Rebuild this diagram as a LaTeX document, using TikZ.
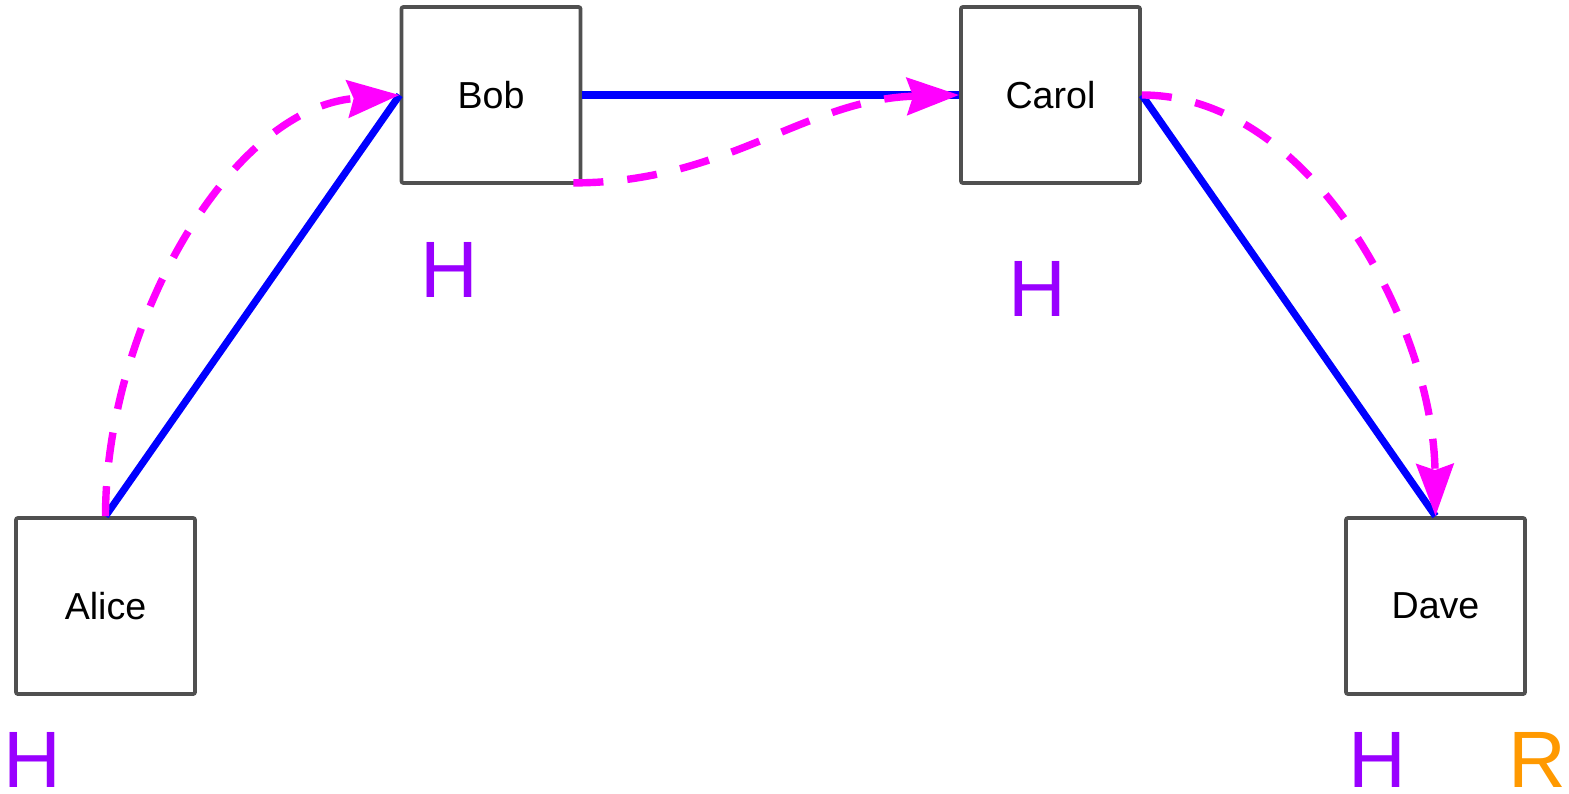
\documentclass[tikz,border=0pt]{standalone}
\usepackage{fontspec}
\setmainfont{Liberation Sans}
\usetikzlibrary{arrows.meta}
\definecolor{boxgray}{HTML}{505050}
\definecolor{linkblue}{HTML}{0000FF}
\definecolor{flowmag}{HTML}{FF00FF}
\definecolor{hpurple}{HTML}{9900FF}
\definecolor{rorange}{HTML}{FF9900}
\begin{document}
\begin{tikzpicture}[x=0.5pt,y=-0.5pt,
  party/.style={draw=boxgray, line width=1.9pt, rounded corners=1pt,
    minimum width=89.5pt, minimum height=88pt, inner sep=0pt,
    font=\fontsize{18.8pt}{22pt}\selectfont},
  link/.style={draw=linkblue, line width=3.6pt},
  flow/.style={draw=flowmag, line width=3.7pt, dash pattern=on 15pt off 12pt,
    -{Stealth[length=26pt,width=18.5pt,inset=3pt]}},
  hmark/.style={text=hpurple, anchor=base, inner sep=0pt,
    font=\fontsize{40pt}{48pt}\selectfont},
  rmark/.style={hmark, text=rorange}]
\useasboundingbox (0,0) rectangle (1569,793);

% parties
\node[party] (alice) at (105.5,606) {Alice};
\node[party] (bob)   at (491,95)    {Bob};
\node[party] (carol) at (1050.5,95) {Carol};
\node[party] (dave)  at (1435.5,606) {Dave};

% direct links
\draw[link] (alice.north) -- (bob.west);
\draw[link] (bob.east) -- (carol.west);
\draw[link] (carol.east) -- (dave.north);

% message flow
\draw[flow] (alice.north) .. controls +(0,-188) and +(-171,13) .. (bob.west);
\draw[flow] ([shift={(-9,-2)}]bob.south east) .. controls +(154,0) and +(-154,4) .. (carol.west);
\draw[flow] (carol.east) .. controls +(171,0) and +(-2,-188) .. (dave.north);

% role marks
\node[hmark] (hAlice) at (32,787)    {H};
\node[hmark] (hBob)   at (449.5,297) {H};
\node[hmark] (hCarol) at (1037,316)  {H};
\node[hmark] (hDave)  at (1377,787)  {H};
\node[rmark] (rDave)  at (1537,787)  {R};
\end{tikzpicture}
\end{document}
